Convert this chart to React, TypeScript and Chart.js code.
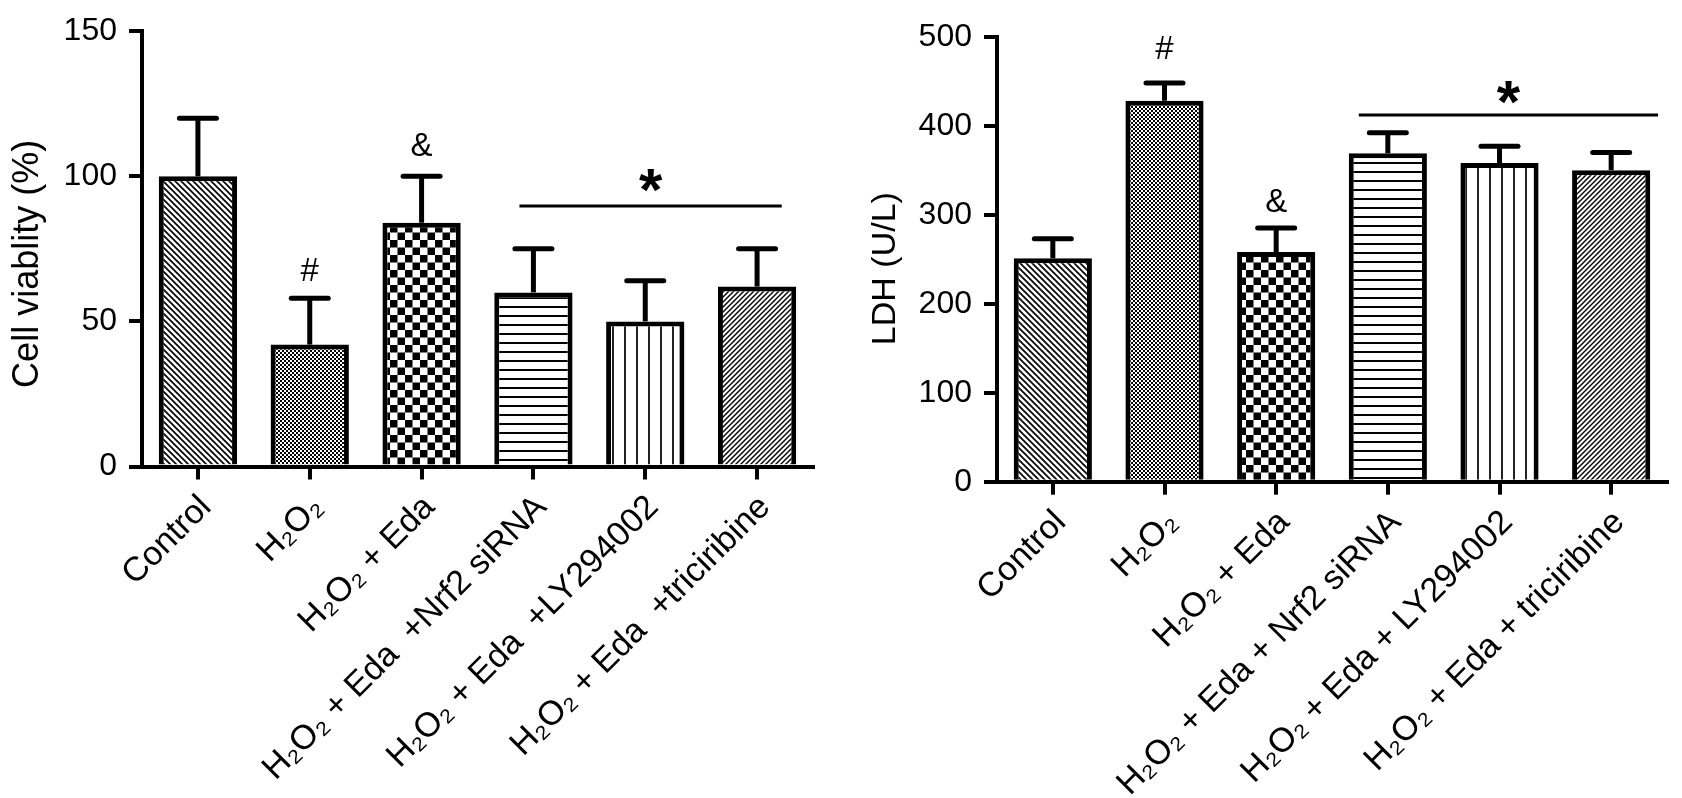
import { useEffect, useRef } from "react"
import { Chart, registerables } from "chart.js"

Chart.register(...registerables)

const FONT = "'Liberation Sans', Arial, Helvetica, sans-serif"

// Left panel: cell viability
const viabilityLabels = [
  "Control",
  "H₂O₂",
  "H₂O₂ + Eda",
  "H₂O₂ + Eda  +Nrf2 siRNA",
  "H₂O₂ + Eda  +LY294002",
  "H₂O₂ + Eda  +triciribine",
]
const viabilityMeans = [100, 42, 84, 60, 50, 62]
const viabilitySD = [20, 16, 16, 15, 14, 13]
const viabilityTicks = [0, 50, 100, 150]

// Right panel: LDH release
const ldhLabels = [
  "Control",
  "H₂O₂",
  "H₂O₂ + Eda",
  "H₂O₂ + Eda + Nrf2 siRNA",
  "H₂O₂ + Eda + LY294002",
  "H₂O₂ + Eda + triciribine",
]
const ldhMeans = [251, 428, 258, 369, 358, 350]
const ldhSD = [22, 20, 27, 23, 19, 20]
const ldhTicks = [0, 100, 200, 300, 400, 500]

// fill pattern per group, same order in both panels
const patternKinds = ["backslash", "dots", "checker", "hlines", "vlines", "slash"]

// significance symbols: category index + height in data units
const viabilityMarks = [
  { index: 1, value: 67, text: "#" },
  { index: 2, value: 110, text: "&" },
]
const viabilityBracket = { from: 2.875, to: 5.22, value: 89.8, star: 100 }

const ldhMarks = [
  { index: 1, value: 485, text: "#" },
  { index: 2, value: 313, text: "&" },
]
const ldhBracket = { from: 2.74, to: 5.42, value: 412, star: 442 }

type Mark = { index: number; value: number; text: string }
type Bracket = { from: number; to: number; value: number; star: number }

function makePattern(kind: string) {
  const sizes: Record<string, number> = { backslash: 6, slash: 5, dots: 4, checker: 15, hlines: 9, vlines: 12 }
  const size = sizes[kind] ?? 8
  const c = document.createElement("canvas")
  c.width = size
  c.height = size
  const g = c.getContext("2d")!
  g.fillStyle = "#fff"
  g.fillRect(0, 0, size, size)
  g.fillStyle = "#000"
  g.strokeStyle = "#000"
  if (kind === "backslash") {
    g.lineWidth = 1.7
    for (const k of [-size, 0, size]) {
      g.beginPath()
      g.moveTo(k - size, -size)
      g.lineTo(k + 2 * size, 2 * size)
      g.stroke()
    }
  } else if (kind === "slash") {
    g.lineWidth = 1.4
    for (const k of [0, size, 2 * size]) {
      g.beginPath()
      g.moveTo(k + size, -size)
      g.lineTo(k - 2 * size, 2 * size)
      g.stroke()
    }
  } else if (kind === "dots") {
    g.fillRect(0, 0, 2, 2)
    g.fillRect(2, 2, 2, 2)
  } else if (kind === "checker") {
    g.fillRect(0, 0, 7.5, 7.5)
    g.fillRect(7.5, 7.5, 7.5, 7.5)
  } else if (kind === "hlines") {
    g.fillRect(0, 0, size, 2)
  } else if (kind === "vlines") {
    g.fillStyle = "#222"
    g.fillRect(0, 0, 2, size)
  }
  return g.createPattern(c, "repeat")!
}

function overlay(means: number[], sd: number[], marks: Mark[], bracket: Bracket) {
  return {
    id: "overlay",
    afterDatasetsDraw(chart: Chart) {
      const { ctx } = chart
      const x = chart.scales.x
      const y = chart.scales.y
      ctx.save()
      ctx.strokeStyle = "#000"
      ctx.fillStyle = "#000"

      // upper error bars
      means.forEach((m, i) => {
        const px = x.getPixelForValue(i)
        const top = y.getPixelForValue(m)
        const end = y.getPixelForValue(m + sd[i])
        ctx.lineWidth = 5
        ctx.lineCap = "butt"
        ctx.beginPath()
        ctx.moveTo(px, top)
        ctx.lineTo(px, end)
        ctx.stroke()
        ctx.lineCap = "round"
        ctx.beginPath()
        ctx.moveTo(px - 18.5, end)
        ctx.lineTo(px + 18.5, end)
        ctx.stroke()
      })

      ctx.font = `33px ${FONT}`
      ctx.textAlign = "center"
      ctx.textBaseline = "middle"
      marks.forEach((mk) => {
        ctx.fillText(mk.text, x.getPixelForValue(mk.index), y.getPixelForValue(mk.value))
      })

      // bracket line with star
      const x0 = x.getPixelForValue(bracket.from)
      const x1 = x.getPixelForValue(bracket.to)
      const by = y.getPixelForValue(bracket.value)
      ctx.lineWidth = 3
      ctx.lineCap = "butt"
      ctx.beginPath()
      ctx.moveTo(x0, by)
      ctx.lineTo(x1, by)
      ctx.stroke()
      ctx.font = `bold 60px ${FONT}`
      ctx.textBaseline = "alphabetic"
      ctx.fillText("*", (x0 + x1) / 2, y.getPixelForValue(bracket.star) + 0.56 * 60)
      ctx.restore()
    },
  }
}

type PanelProps = {
  left: number
  width: number
  labels: string[]
  means: number[]
  sd: number[]
  ticks: number[]
  title: string
  titleSize: number
  marks: Mark[]
  bracket: Bracket
  yWidth: number
  xHeight: number
  padTop: number
  padRight: number
  titlePad: number
}

function BarPanel(p: PanelProps) {
  const chartRef = useRef<HTMLCanvasElement>(null)

  useEffect(() => {
    const canvas = chartRef.current
    if (!canvas) return

    const axisGrid = {
      display: true,
      drawOnChartArea: false,
      drawTicks: true,
      tickLength: 13,
      lineWidth: 4,
      color: "#000",
    }

    const chart = new Chart(canvas, {
      type: "bar",
      data: {
        labels: p.labels,
        datasets: [
          {
            data: p.means,
            backgroundColor: patternKinds.map(makePattern),
            borderColor: "#000",
            borderWidth: 5,
            borderSkipped: "start",
            barPercentage: 0.7,
            categoryPercentage: 1,
          },
        ],
      },
      options: {
        animation: false,
        responsive: true,
        maintainAspectRatio: false,
        devicePixelRatio: 1,
        layout: { padding: { top: p.padTop, right: p.padRight, left: 0, bottom: 0 } },
        plugins: {
          legend: { display: false },
          tooltip: { enabled: false },
        },
        scales: {
          x: {
            offset: true,
            z: 1,
            grid: { ...axisGrid, offset: false },
            border: { display: true, width: 4, color: "#000" },
            ticks: {
              color: "#000",
              font: { family: FONT, size: 34 },
              minRotation: 45,
              maxRotation: 45,
              autoSkip: false,
              padding: 8,
              labelOffset: 8,
            },
            afterFit: (s: any) => {
              s.height = p.xHeight
            },
          },
          y: {
            min: p.ticks[0],
            max: p.ticks[p.ticks.length - 1],
            z: 1,
            grid: axisGrid,
            border: { display: true, width: 4, color: "#000" },
            ticks: { color: "#000", font: { family: FONT, size: 32 }, padding: 12 },
            afterBuildTicks: (s: any) => {
              s.ticks = p.ticks.map((v) => ({ value: v }))
            },
            title: {
              display: true,
              text: p.title,
              color: "#000",
              font: { family: FONT, size: p.titleSize },
              padding: { top: p.titlePad, bottom: 0 },
            },
            afterFit: (s: any) => {
              s.width = p.yWidth
            },
          },
        },
      },
      plugins: [overlay(p.means, p.sd, p.marks, p.bracket)],
    } as any)

    return () => {
      chart.destroy()
    }
  }, [])

  return (
    <div style={{ position: "absolute", left: p.left, top: 0, width: p.width, height: 798 }}>
      <canvas ref={chartRef} />
    </div>
  )
}

export default function App() {
  return (
    <div style={{ position: "absolute", left: 0, top: 0, width: 1682, height: 798, background: "#fff" }}>
      <BarPanel
        left={0}
        width={840}
        labels={viabilityLabels}
        means={viabilityMeans}
        sd={viabilitySD}
        ticks={viabilityTicks}
        title={"Cell viablity (%)   "}
        titleSize={36}
        marks={viabilityMarks}
        bracket={viabilityBracket}
        yWidth={142}
        xHeight={331.5}
        padTop={24}
        padRight={27}
        titlePad={6}
      />
      <BarPanel
        left={841}
        width={841}
        labels={ldhLabels}
        means={ldhMeans}
        sd={ldhSD}
        ticks={ldhTicks}
        title={"LDH (U/L)  "}
        titleSize={34}
        marks={ldhMarks}
        bracket={ldhBracket}
        yWidth={156}
        xHeight={316.3}
        padTop={36.7}
        padRight={15}
        titlePad={24}
      />
    </div>
  )
}
